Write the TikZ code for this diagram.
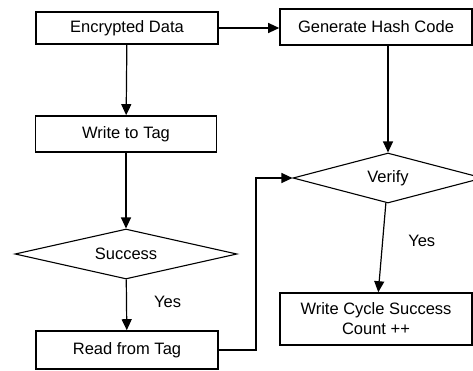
\documentclass[tikz,border=0pt]{standalone}
\usepackage{fontspec}
\setmainfont{Liberation Sans}
\usetikzlibrary{shapes.geometric,arrows.meta}
\begin{document}
\begin{tikzpicture}[x=1pt,y=-1pt,
  every node/.style={font=\fontsize{16.5}{20}\selectfont},
  box/.style={draw,line width=1.6pt,inner sep=0pt,align=center},
  decision/.style={draw,line width=1.1pt,shape=diamond,inner sep=0pt},
  arr/.style={line width=1.2pt,-{Triangle[length=11pt,width=10pt]}},
  lbl/.style={inner sep=0pt}]
\useasboundingbox (0,0) rectangle (473,370);
\clip (0,0) rectangle (473,370);
\node[box,minimum width=182pt,minimum height=32pt] (enc) at (127,28) {Encrypted Data};
\node[box,minimum width=192pt,minimum height=36pt] (gen) at (376,27) {Generate Hash Code};
\node[box,minimum width=181pt,minimum height=36pt] (write) at (126,134) {Write to Tag};
\node[decision,minimum width=222pt,minimum height=50pt,aspect=4.44] (succ) at (126,254) {Success};
\node[box,minimum width=182pt,minimum height=38pt] (read) at (127,350) {Read from Tag};
\node[decision,minimum width=190pt,minimum height=50pt,aspect=3.8] (verify) at (388,178) {Verify};
\node[box,minimum width=192pt,minimum height=52pt] (wcs) at (376,319) {Write Cycle Success\\Count ++};
\coordinate (bend) at (256,350);
\draw[arr] (enc.east) -- (enc.east -| gen.west);
\draw[arr] (enc) -- (write);
\draw[arr] (write) -- (succ);
\draw[arr] (succ) -- (read) node[lbl,pos=0.45,right=27pt] (yes1) {Yes};
\draw[arr] (read.east) -- (bend) |- (verify.west);
\draw[arr] (verify.north |- gen.south) -- (verify.north);
\draw[arr] (verify) -- (wcs) node[lbl,pos=0.42,right=25pt] (yes2) {Yes};
\end{tikzpicture}
\end{document}
